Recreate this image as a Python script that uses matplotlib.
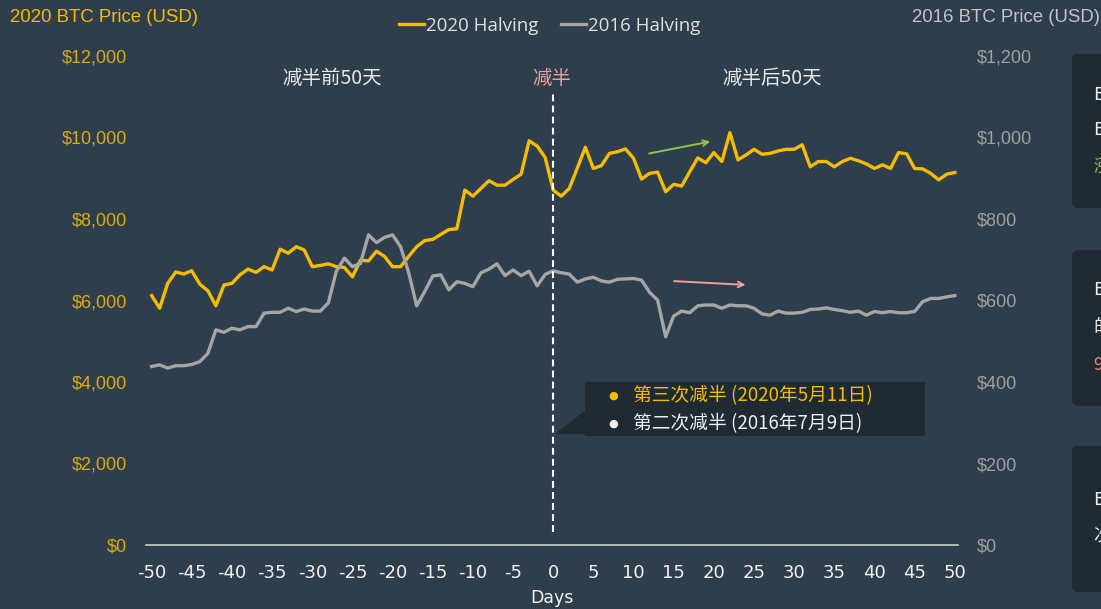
import matplotlib
matplotlib.use('Agg')
import matplotlib.pyplot as plt
from matplotlib import font_manager
from matplotlib.patches import FancyBboxPatch, Polygon, Rectangle
from matplotlib.ticker import FuncFormatter

# ---- data ----
days = list(range(-50, 51))

halving_2020 = [6120, 5810, 6420, 6700, 6650, 6730, 6400, 6240, 5870, 6380,
                6420, 6630, 6770, 6690, 6830, 6750, 7260, 7160, 7320, 7240,
                6830, 6860, 6900, 6830, 6810, 6580, 6990, 6970, 7210, 7080,
                6830, 6830, 7080, 7320, 7470, 7500, 7620, 7740, 7760, 8710,
                8560, 8750, 8940, 8830, 8830, 8970, 9100, 9920, 9790, 9510,
                8710, 8560, 8750, 9250, 9760, 9240, 9310, 9610, 9650, 9720,
                9490, 8980, 9120, 9150, 8670, 8850, 8810, 9160, 9500, 9380,
                9630, 9410, 10120, 9450, 9570, 9710, 9590, 9610, 9670, 9710,
                9710, 9820, 9280, 9410, 9410, 9280, 9410, 9490, 9430, 9350,
                9240, 9330, 9240, 9630, 9600, 9240, 9230, 9120, 8960, 9100,
                9140]

halving_2016 = [438, 442, 434, 440, 440, 443, 450, 470, 528, 522,
                532, 528, 536, 536, 569, 571, 571, 581, 573, 579,
                574, 574, 594, 672, 704, 683, 691, 761, 742, 755,
                761, 732, 669, 587, 622, 660, 663, 626, 646, 642,
                634, 668, 677, 690, 661, 675, 661, 672, 636, 664,
                673, 668, 665, 645, 653, 657, 648, 645, 652, 653,
                654, 650, 620, 601, 511, 562, 574, 570, 587, 589,
                589, 581, 589, 587, 587, 581, 567, 564, 574, 569,
                569, 571, 578, 579, 582, 578, 575, 571, 574, 564,
                573, 570, 573, 570, 570, 573, 597, 605, 605, 609,
                612]

x_ticks = list(range(-50, 51, 5))
left_ticks = list(range(0, 12001, 2000))
right_ticks = list(range(0, 1201, 200))

series_names = ['2020 Halving', '2016 Halving']
phase_labels = ['减半前50天', '减半', '减半后50天']
tooltip_lines = ['第三次减半 (2020年5月11日)', '第二次减半 (2016年7月9日)']
# side panels are cut off by the image edge; only their first glyphs show
panel_texts = [['B', 'B', '涨'], ['B', '的', '9'], ['B', '次']]

# ---- style ----
BG = '#2e3e4d'
BOX = '#1f2a33'
YEL = '#f5bd00'
GRY = '#a6a6a6'
CJK = ['Noto Sans CJK SC', 'DejaVu Sans']

names = {f.name for f in font_manager.fontManager.ttflist}
NARROW = 'Liberation Sans Narrow' if 'Liberation Sans Narrow' in names else 'DejaVu Sans'

W, H = 1101, 609
fig = plt.figure(figsize=(W / 100, H / 100), dpi=100, facecolor=BG)
px = fig.dpi_scale_trans


def P(x, y):
    # pixel position (from top-left) -> inches for dpi_scale_trans
    return x / 100, (H - y) / 100


ax = fig.add_axes([146 / W, 1 - 545 / H, (958 - 146) / W, (545 - 56) / H])
ax.set_facecolor(BG)
ax2 = ax.twinx()

ax.set_xlim(-50.7, 50.4)
ax.set_ylim(0, 12000)
ax2.set_ylim(0, 1200)

l1, = ax.plot(days, halving_2020, color=YEL, lw=2.4, label=series_names[0],
              solid_joinstyle='round')
l2, = ax2.plot(days, halving_2016, color=GRY, lw=2.4, label=series_names[1],
               solid_joinstyle='round')

for a in (ax, ax2):
    for s in a.spines.values():
        s.set_visible(False)
ax.spines['bottom'].set_visible(True)
ax.spines['bottom'].set_color('#d0d0d0')
ax.spines['bottom'].set_linewidth(1.2)

ax.set_xticks(x_ticks)
ax.set_xticklabels([str(t) for t in x_ticks])
ax.tick_params(axis='x', length=0, pad=14, labelsize=13, labelcolor='#f2f2f2')
for lab in ax.get_xticklabels():
    lab.set_fontfamily(NARROW)

ax.set_yticks(left_ticks)
ax.yaxis.set_major_formatter(FuncFormatter(lambda v, p: '${:,.0f}'.format(v)))
ax.tick_params(axis='y', length=0, pad=13.5, labelsize=13, labelcolor='#dcaa12')
ax2.set_yticks(right_ticks)
ax2.yaxis.set_major_formatter(FuncFormatter(lambda v, p: '${:,.0f}'.format(v)))
ax2.tick_params(axis='y', length=0, pad=13.5, labelsize=13, labelcolor='#a0a0a0')
for lab in ax.get_yticklabels() + ax2.get_yticklabels():
    lab.set_fontfamily('Liberation Sans')

ax.set_xlabel('Days', color='#f2f2f2', fontsize=12.5, labelpad=5, family=NARROW)

# halving marker and phase labels
ax2.vlines(0, 32, 1112, colors='white', linestyles=(0, (3.3, 2.0)), lw=1.5, zorder=5)
ax.text(-27.5, 11440, phase_labels[0], ha='center', va='center', color='#e8e8e8',
        fontsize=14, family=CJK)
ax.text(-0.2, 11440, phase_labels[1], ha='center', va='center', color='#e8a0a0',
        fontsize=14, family=CJK)
ax.text(27.3, 11440, phase_labels[2], ha='center', va='center', color='#e8e8e8',
        fontsize=14, family=CJK)

# trend arrows
ax.annotate('', xy=(19.9, 9914), xytext=(11.6, 9595),
            arrowprops=dict(arrowstyle='->', color='#8cc63f', lw=1.4))
ax.annotate('', xy=(24.3, 6380), xytext=(14.7, 6479),
            arrowprops=dict(arrowstyle='->', color='#f0a0a0', lw=1.4))

# axis titles and legend
fig.text(10 / W, 1 - 18 / H, '2020 BTC Price (USD)', ha='left', va='center',
         color=YEL, fontsize=13.4, family='Liberation Sans')
fig.text(1100 / W, 1 - 18 / H, '2016 BTC Price (USD)', ha='right', va='center',
         color='#c4c4c4', fontsize=13.4, family='Liberation Sans')
fig.legend(handles=[l1, l2], loc='center', bbox_to_anchor=(550 / W, 1 - 26 / H),
           ncol=2, frameon=False, handlelength=1.33, handletextpad=0.12,
           columnspacing=1.2, prop={'family': 'Open Sans', 'size': 13.5},
           labelcolor='#e0e0e0')

# tooltip
fig.patches.append(Rectangle(P(585, 436), 3.40, 0.54, transform=px,
                             facecolor=BOX, edgecolor='none', zorder=6))
fig.patches.append(Polygon([P(586, 410), P(586, 434), P(555, 434)], closed=True,
                           transform=px, facecolor=BOX, edgecolor='none', zorder=6))
for i, (txt, col) in enumerate(zip(tooltip_lines, [YEL, '#eeeeee'])):
    y = 396 + 28 * i
    fig.text(*P(613, y), '●', transform=px, ha='center', va='center', color=col,
             fontsize=8, family='DejaVu Sans', zorder=7)
    fig.text(*P(633, y), txt, transform=px, ha='left', va='center', color=col,
             fontsize=13.5, family=CJK, zorder=7)

# side panels (cut off at the right edge, as in the source)
panels = [(54, 208, [95, 130, 167], ['#f0f0f0', '#f0f0f0', '#8cc63f']),
          (250, 406, [290, 327, 365], ['#f0f0f0', '#f0f0f0', '#f08080']),
          (446, 592, [500, 535], ['#f0f0f0', '#f0f0f0'])]
for (top, bot, ys, cols), texts in zip(panels, panel_texts):
    fig.patches.append(FancyBboxPatch(P(1072, bot), 1.0, (bot - top) / 100,
                                      boxstyle='round,pad=0,rounding_size=0.06',
                                      transform=px, facecolor=BOX, edgecolor='none'))
    for txt, y, col in zip(texts, ys, cols):
        fig.text(*P(1093, y), txt, transform=px, ha='left', va='center', color=col,
                 fontsize=13, family=CJK)

fig.savefig('out.png', dpi=100, facecolor=BG)
